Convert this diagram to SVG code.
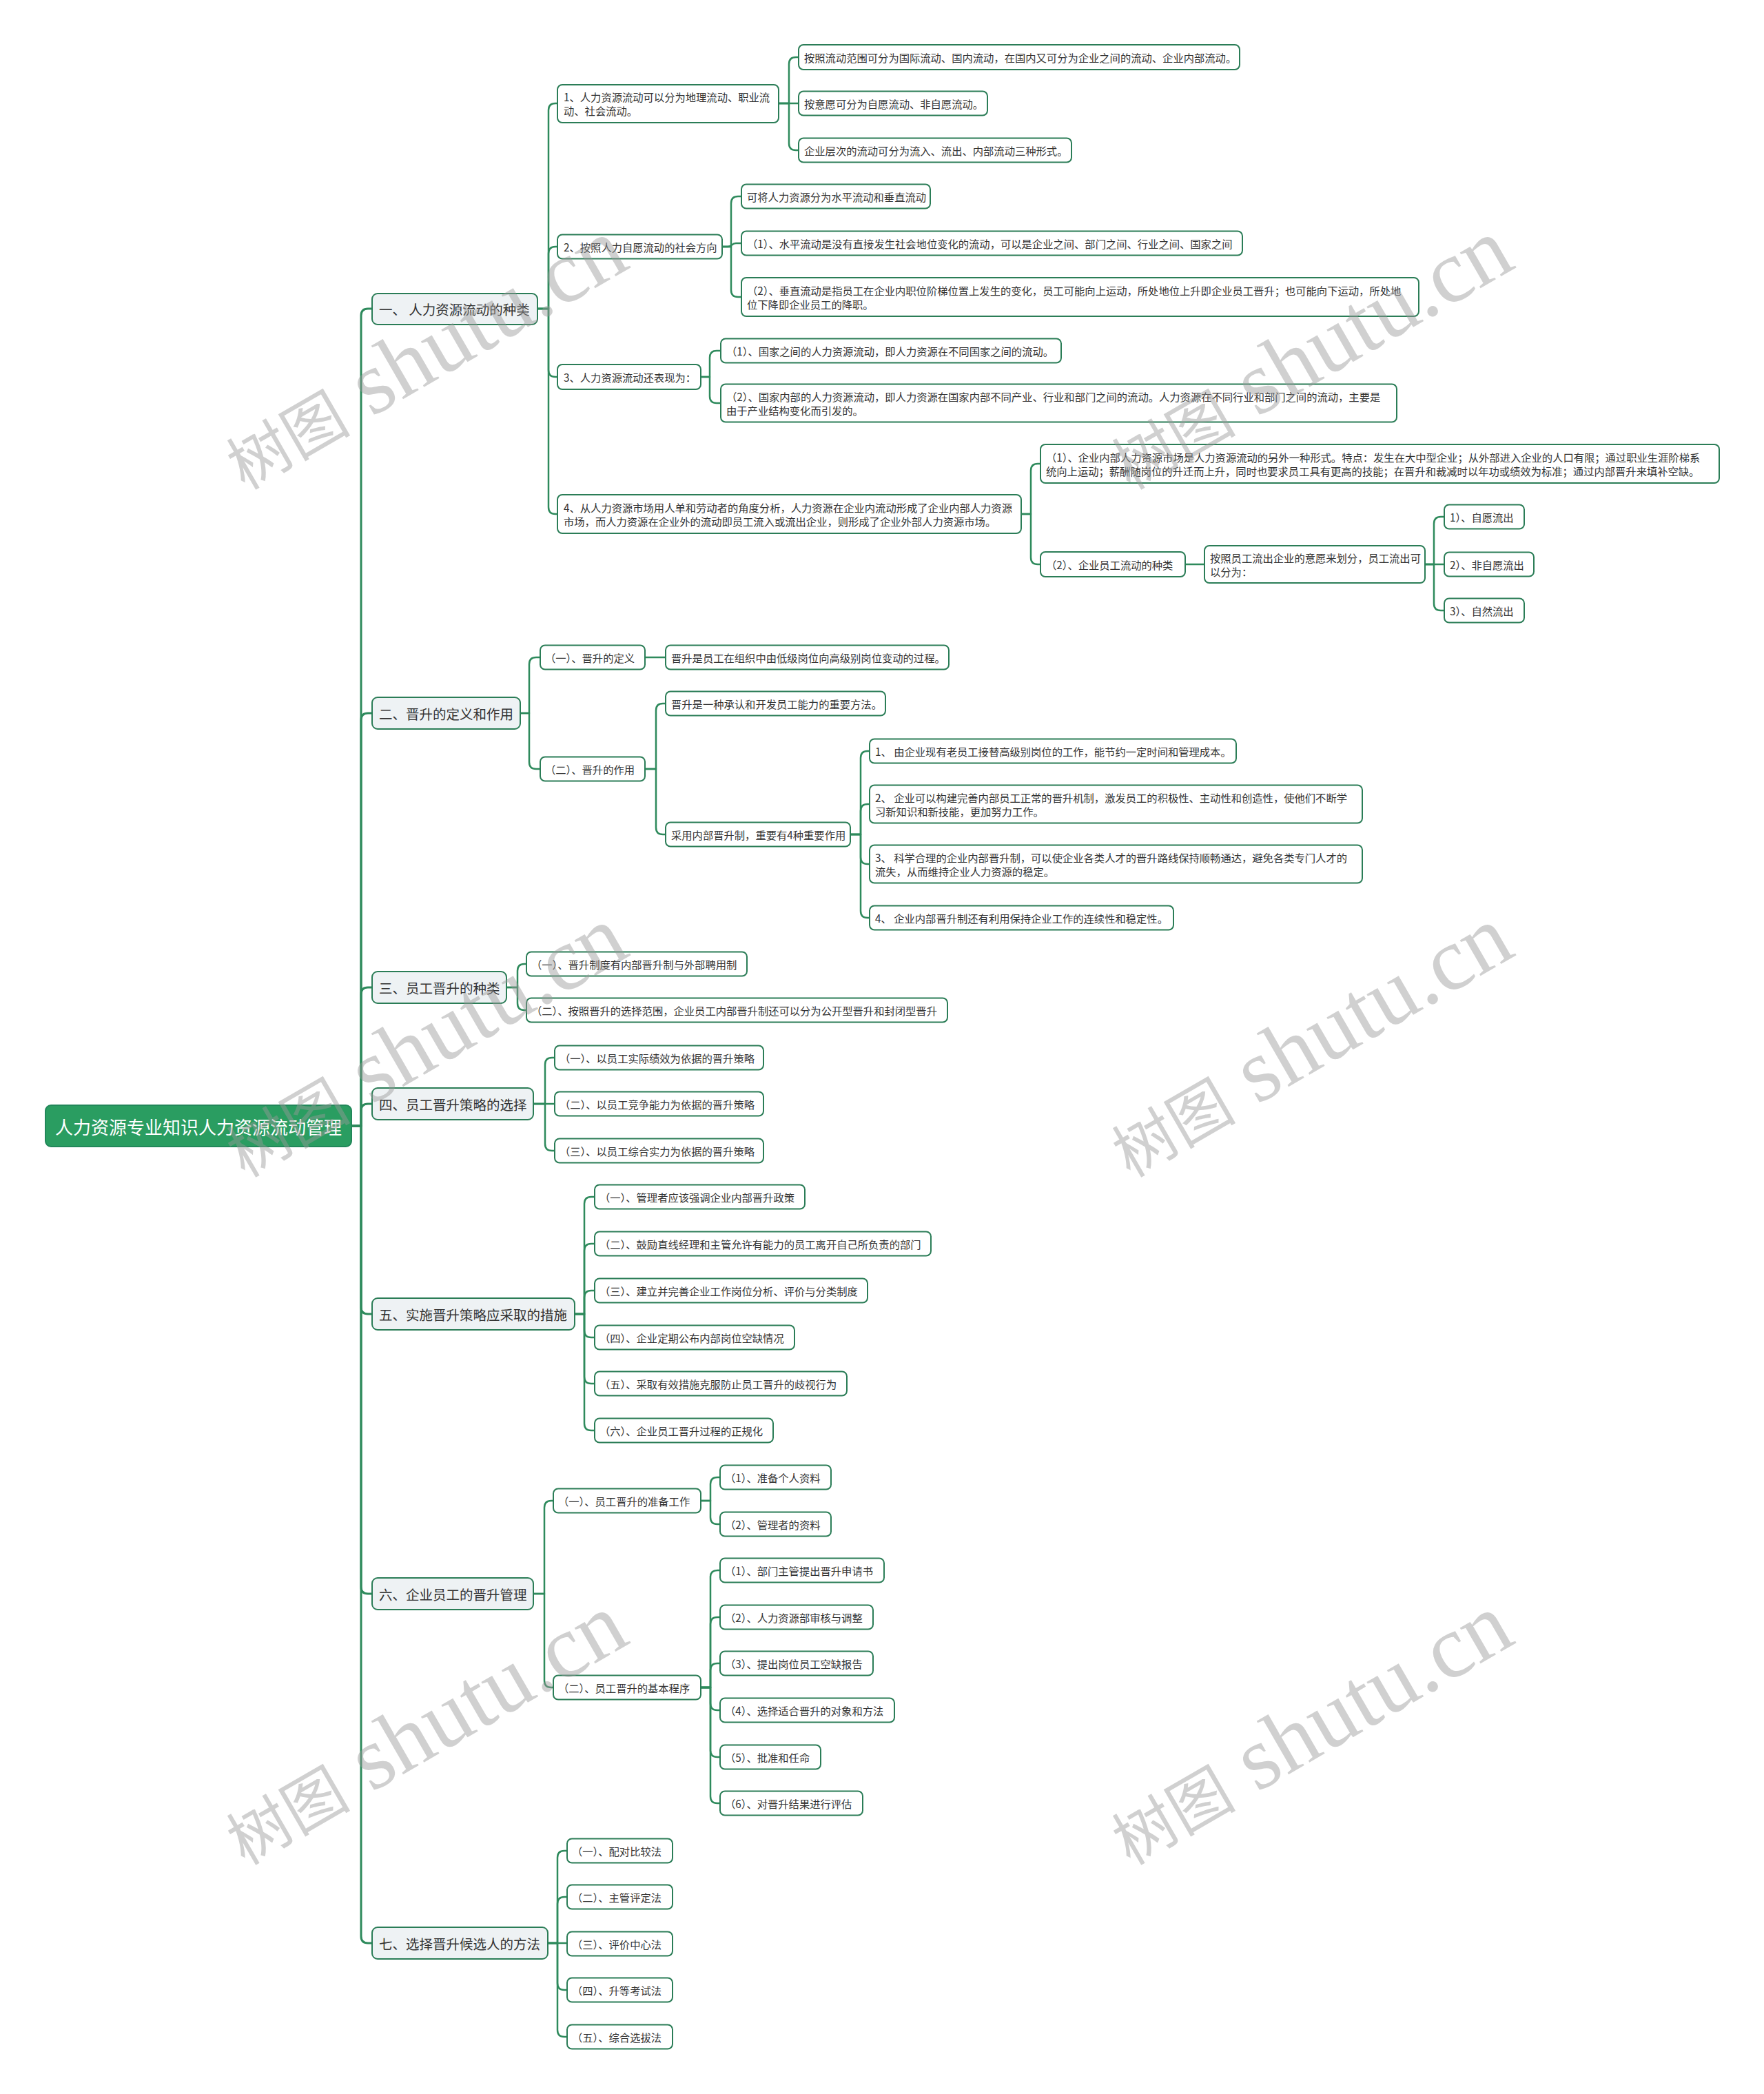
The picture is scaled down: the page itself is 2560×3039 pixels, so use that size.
<svg xmlns="http://www.w3.org/2000/svg" width="2560" height="3039" viewBox="0 0 2560 3039">
<style>
.n{fill:#ffffff;stroke:#2b7d57;stroke-width:2}
.l1{fill:#eef2f4;stroke:#2b7d57;stroke-width:2}
.root{fill:#2a9d61;stroke:#22875a;stroke-width:2}
text{font-family:'Noto Sans CJK SC','Noto Sans',sans-serif;fill:#333333;dominant-baseline:central}
.t{font-size:15.3px}
.t1{font-size:19.5px}
.tr{font-size:26px;fill:#ffffff;text-anchor:middle}
.c{fill:none;stroke:#2e8a5c;stroke-width:2.5;stroke-linecap:round;stroke-linejoin:round}
.trunk{stroke-width:3}
.wm{fill:#999999;opacity:0.45;dominant-baseline:alphabetic}
.wmc{font-family:'Noto Sans CJK SC',sans-serif;font-size:90px}
.wml{font-family:'Liberation Serif',serif;font-size:130px}
</style>
<rect x="0" y="0" width="2560" height="3039" fill="#ffffff"/>

<g id="connectors">
<path class="c trunk" d="M510 1634 H524 V458 Q524 448 534 448 H539"/>
<path class="c trunk" d="M510 1634 H524 V1045 Q524 1035 534 1035 H539"/>
<path class="c trunk" d="M510 1634 H524 V1443 Q524 1433 534 1433 H539"/>
<path class="c trunk" d="M510 1634 H524 V1612 Q524 1602 534 1602 H539"/>
<path class="c trunk" d="M510 1634 H524 V1897 Q524 1907 534 1907 H539"/>
<path class="c trunk" d="M510 1634 H524 V2303 Q524 2313 534 2313 H539"/>
<path class="c trunk" d="M510 1634 H524 V2810 Q524 2820 534 2820 H539"/>

<path class="c" d="M780 448 H796 V160 Q796 150 806 150 H809"/>
<path class="c" d="M780 448 H796 V368 Q796 358 806 358 H809"/>
<path class="c" d="M780 448 H796 V537 Q796 547 806 547 H809"/>
<path class="c" d="M780 448 H796 V736 Q796 746 806 746 H809"/>

<path class="c" d="M1130 150 H1145 V93 Q1145 83 1155 83 H1159"/>
<path class="c" d="M1130 150 H1159"/>
<path class="c" d="M1130 150 H1145 V208 Q1145 218 1155 218 H1159"/>

<path class="c" d="M1048 358 H1061 V295 Q1061 285 1071 285 H1076"/>
<path class="c" d="M1048 358 H1056 C1062 358 1062 353 1068 353 H1076"/>
<path class="c" d="M1048 358 H1061 V421 Q1061 431 1071 431 H1076"/>

<path class="c" d="M1017 547 H1030 V519 Q1030 509 1040 509 H1046"/>
<path class="c" d="M1017 547 H1030 V575 Q1030 585 1040 585 H1046"/>

<path class="c" d="M1482 746 H1496 V683 Q1496 673 1506 673 H1510"/>
<path class="c" d="M1482 746 H1496 V809 Q1496 819 1506 819 H1510"/>
<path class="c" d="M1720 819 H1748"/>
<path class="c" d="M2068 819 H2081 V760 Q2081 750 2091 750 H2096"/>
<path class="c" d="M2068 819 H2096"/>
<path class="c" d="M2068 819 H2081 V876 Q2081 886 2091 886 H2096"/>

<path class="c" d="M755 1035 H768 V964 Q768 954 778 954 H784"/>
<path class="c" d="M755 1035 H768 V1106 Q768 1116 778 1116 H784"/>
<path class="c" d="M936 954 H966"/>
<path class="c" d="M936 1116 H952 V1031 Q952 1021 962 1021 H966"/>
<path class="c" d="M936 1116 H952 V1201 Q952 1211 962 1211 H966"/>
<path class="c" d="M1234 1211 H1249 V1100 Q1249 1090 1259 1090 H1262"/>
<path class="c" d="M1234 1211 H1249 V1177 Q1249 1167 1259 1167 H1262"/>
<path class="c" d="M1234 1211 H1249 V1244 Q1249 1254 1259 1254 H1262"/>
<path class="c" d="M1234 1211 H1249 V1322 Q1249 1332 1259 1332 H1262"/>

<path class="c" d="M735 1433 H751 V1409 Q751 1399 761 1399 H764"/>
<path class="c" d="M735 1433 H751 V1456 Q751 1466 761 1466 H764"/>

<path class="c" d="M774 1602 H791 V1545 Q791 1535 801 1535 H805"/>
<path class="c" d="M774 1602 H805"/>
<path class="c" d="M774 1602 H791 V1660 Q791 1670 801 1670 H805"/>

<path class="c" d="M834 1907 H848 V1747 Q848 1737 858 1737 H863"/>
<path class="c" d="M834 1907 H848 V1815 Q848 1805 858 1805 H863"/>
<path class="c" d="M834 1907 H848 V1883 Q848 1873 858 1873 H863"/>
<path class="c" d="M834 1907 H848 V1931 Q848 1941 858 1941 H863"/>
<path class="c" d="M834 1907 H848 V1998 Q848 2008 858 2008 H863"/>
<path class="c" d="M834 1907 H848 V2066 Q848 2076 858 2076 H863"/>

<path class="c" d="M774 2313 H790 V2188 Q790 2178 800 2178 H803"/>
<path class="c" d="M774 2313 H790 V2439 Q790 2449 800 2449 H803"/>
<path class="c" d="M1017 2178 H1031 V2154 Q1031 2144 1041 2144 H1045"/>
<path class="c" d="M1017 2178 H1031 V2202 Q1031 2212 1041 2212 H1045"/>
<path class="c" d="M1017 2449 H1031 V2289 Q1031 2279 1041 2279 H1045"/>
<path class="c" d="M1017 2449 H1031 V2357 Q1031 2347 1041 2347 H1045"/>
<path class="c" d="M1017 2449 H1031 V2424 Q1031 2414 1041 2414 H1045"/>
<path class="c" d="M1017 2449 H1031 V2472 Q1031 2482 1041 2482 H1045"/>
<path class="c" d="M1017 2449 H1031 V2540 Q1031 2550 1041 2550 H1045"/>
<path class="c" d="M1017 2449 H1031 V2607 Q1031 2617 1041 2617 H1045"/>

<path class="c" d="M795 2820 H809 V2696 Q809 2686 819 2686 H823"/>
<path class="c" d="M795 2820 H809 V2763 Q809 2753 819 2753 H823"/>
<path class="c" d="M795 2820 H823"/>
<path class="c" d="M795 2820 H809 V2878 Q809 2888 819 2888 H823"/>
<path class="c" d="M795 2820 H809 V2946 Q809 2956 819 2956 H823"/>
</g>

<g id="n-root"><rect class="root" x="66" y="1604" width="444" height="60" rx="8"/><text class="tr" x="288" y="1634">人力资源专业知识人力资源流动管理</text></g>

<g id="n1"><rect class="l1" x="540" y="426" width="240" height="45" rx="8"/><text class="t1" x="550" y="448.5">一、 人力资源流动的种类</text></g>
<g id="n1-1"><rect class="n" x="809" y="123" width="321" height="55" rx="7"/><text class="t" x="818" y="140">1、人力资源流动可以分为地理流动、职业流</text><text class="t" x="818" y="160">动、社会流动。</text></g>
<g id="n1-1a"><rect class="n" x="1159" y="65" width="640" height="36" rx="7"/><text class="t" x="1167" y="83">按照流动范围可分为国际流动、国内流动，在国内又可分为企业之间的流动、企业内部流动。</text></g>
<g id="n1-1b"><rect class="n" x="1159" y="132.5" width="274" height="35" rx="7"/><text class="t" x="1167" y="150">按意愿可分为自愿流动、非自愿流动。</text></g>
<g id="n1-1c"><rect class="n" x="1159" y="200.5" width="396" height="35" rx="7"/><text class="t" x="1167" y="218">企业层次的流动可分为流入、流出、内部流动三种形式。</text></g>
<g id="n1-2"><rect class="n" x="809" y="340.5" width="239" height="35" rx="7"/><text class="t" x="818" y="358">2、按照人力自愿流动的社会方向</text></g>
<g id="n1-2a"><rect class="n" x="1076" y="267.5" width="274" height="35" rx="7"/><text class="t" x="1084" y="285">可将人力资源分为水平流动和垂直流动</text></g>
<g id="n1-2b"><rect class="n" x="1076" y="335.5" width="727" height="35" rx="7"/><text class="t" x="1084" y="353">（1）、水平流动是没有直接发生社会地位变化的流动，可以是企业之间、部门之间、行业之间、国家之间</text></g>
<g id="n1-2c"><rect class="n" x="1076" y="403" width="983" height="56" rx="7"/><text class="t" x="1084" y="421">（2）、垂直流动是指员工在企业内职位阶梯位置上发生的变化，员工可能向上运动，所处地位上升即企业员工晋升；也可能向下运动，所处地</text><text class="t" x="1084" y="441">位下降即企业员工的降职。</text></g>
<g id="n1-3"><rect class="n" x="809" y="529" width="208" height="36" rx="7"/><text class="t" x="818" y="547">3、人力资源流动还表现为：</text></g>
<g id="n1-3a"><rect class="n" x="1046" y="491.5" width="494" height="35" rx="7"/><text class="t" x="1054" y="509">（1）、国家之间的人力资源流动，即人力资源在不同国家之间的流动。</text></g>
<g id="n1-3b"><rect class="n" x="1046" y="557.5" width="981" height="55" rx="7"/><text class="t" x="1054" y="575">（2）、国家内部的人力资源流动，即人力资源在国家内部不同产业、行业和部门之间的流动。人力资源在不同行业和部门之间的流动，主要是</text><text class="t" x="1054" y="595">由于产业结构变化而引发的。</text></g>
<g id="n1-4"><rect class="n" x="809" y="718" width="673" height="56" rx="7"/><text class="t" x="818" y="736">4、从人力资源市场用人单和劳动者的角度分析，人力资源在企业内流动形成了企业内部人力资源</text><text class="t" x="818" y="756">市场，而人力资源在企业外的流动即员工流入或流出企业，则形成了企业外部人力资源市场。</text></g>
<g id="n1-4a"><rect class="n" x="1510" y="645" width="985" height="56" rx="7"/><text class="t" x="1518" y="663">（1）、企业内部人力资源市场是人力资源流动的另外一种形式。特点：发生在大中型企业；从外部进入企业的人口有限；通过职业生涯阶梯系</text><text class="t" x="1518" y="683">统向上运动；薪酬随岗位的升迁而上升，同时也要求员工具有更高的技能；在晋升和裁减时以年功或绩效为标准；通过内部晋升来填补空缺。</text></g>
<g id="n1-4b"><rect class="n" x="1510" y="801" width="210" height="36" rx="7"/><text class="t" x="1518" y="819">（2）、企业员工流动的种类</text></g>
<g id="n1-4c"><rect class="n" x="1748" y="792" width="320" height="54" rx="7"/><text class="t" x="1756" y="809">按照员工流出企业的意愿来划分，员工流出可</text><text class="t" x="1756" y="829">以分为：</text></g>
<g id="n1-4c1"><rect class="n" x="2096" y="732.5" width="116" height="35" rx="7"/><text class="t" x="2104" y="750">1）、自愿流出</text></g>
<g id="n1-4c2"><rect class="n" x="2096" y="801.5" width="130" height="35" rx="7"/><text class="t" x="2104" y="819">2）、非自愿流出</text></g>
<g id="n1-4c3"><rect class="n" x="2096" y="868.5" width="116" height="35" rx="7"/><text class="t" x="2104" y="886">3）、自然流出</text></g>

<g id="n2"><rect class="l1" x="540" y="1012" width="215" height="46" rx="8"/><text class="t1" x="550" y="1035">二、晋升的定义和作用</text></g>
<g id="n2-1"><rect class="n" x="784" y="936.5" width="152" height="35" rx="7"/><text class="t" x="791" y="954">（一）、晋升的定义</text></g>
<g id="n2-1a"><rect class="n" x="966" y="936.5" width="411" height="35" rx="7"/><text class="t" x="974" y="954">晋升是员工在组织中由低级岗位向高级别岗位变动的过程。</text></g>
<g id="n2-2"><rect class="n" x="784" y="1098.5" width="152" height="35" rx="7"/><text class="t" x="791" y="1116">（二）、晋升的作用</text></g>
<g id="n2-2a"><rect class="n" x="966" y="1003.5" width="319" height="35" rx="7"/><text class="t" x="974" y="1021">晋升是一种承认和开发员工能力的重要方法。</text></g>
<g id="n2-2b"><rect class="n" x="966" y="1193.5" width="268" height="35" rx="7"/><text class="t" x="974" y="1211">采用内部晋升制，重要有4种重要作用</text></g>
<g id="n2-2b1"><rect class="n" x="1262" y="1072.5" width="532" height="35" rx="7"/><text class="t" x="1270" y="1090">1、 由企业现有老员工接替高级别岗位的工作，能节约一定时间和管理成本。</text></g>
<g id="n2-2b2"><rect class="n" x="1262" y="1139.5" width="715" height="55" rx="7"/><text class="t" x="1270" y="1157">2、 企业可以构建完善内部员工正常的晋升机制，激发员工的积极性、主动性和创造性，使他们不断学</text><text class="t" x="1270" y="1177">习新知识和新技能，更加努力工作。</text></g>
<g id="n2-2b3"><rect class="n" x="1262" y="1226.5" width="715" height="55" rx="7"/><text class="t" x="1270" y="1244">3、 科学合理的企业内部晋升制，可以使企业各类人才的晋升路线保持顺畅通达，避免各类专门人才的</text><text class="t" x="1270" y="1264">流失，从而维持企业人力资源的稳定。</text></g>
<g id="n2-2b4"><rect class="n" x="1262" y="1314.5" width="441" height="35" rx="7"/><text class="t" x="1270" y="1332">4、 企业内部晋升制还有利用保持企业工作的连续性和稳定性。</text></g>

<g id="n3"><rect class="l1" x="540" y="1410" width="195" height="46" rx="8"/><text class="t1" x="550" y="1433">三、员工晋升的种类</text></g>
<g id="n3-1"><rect class="n" x="764" y="1381.5" width="320" height="35" rx="7"/><text class="t" x="771" y="1399">（一）、晋升制度有内部晋升制与外部聘用制</text></g>
<g id="n3-2"><rect class="n" x="764" y="1448.5" width="611" height="35" rx="7"/><text class="t" x="771" y="1466">（二）、按照晋升的选择范围，企业员工内部晋升制还可以分为公开型晋升和封闭型晋升</text></g>

<g id="n4"><rect class="l1" x="540" y="1579" width="234" height="46" rx="8"/><text class="t1" x="550" y="1602">四、员工晋升策略的选择</text></g>
<g id="n4-1"><rect class="n" x="805" y="1517.5" width="303" height="35" rx="7"/><text class="t" x="812" y="1535">（一）、以员工实际绩效为依据的晋升策略</text></g>
<g id="n4-2"><rect class="n" x="805" y="1584.5" width="303" height="35" rx="7"/><text class="t" x="812" y="1602">（二）、以员工竞争能力为依据的晋升策略</text></g>
<g id="n4-3"><rect class="n" x="805" y="1652.5" width="303" height="35" rx="7"/><text class="t" x="812" y="1670">（三）、以员工综合实力为依据的晋升策略</text></g>

<g id="n5"><rect class="l1" x="540" y="1884" width="294" height="46" rx="8"/><text class="t1" x="550" y="1907">五、实施晋升策略应采取的措施</text></g>
<g id="n5-1"><rect class="n" x="863" y="1719.5" width="305" height="35" rx="7"/><text class="t" x="870" y="1737">（一）、管理者应该强调企业内部晋升政策</text></g>
<g id="n5-2"><rect class="n" x="863" y="1787.5" width="488" height="35" rx="7"/><text class="t" x="870" y="1805">（二）、鼓励直线经理和主管允许有能力的员工离开自己所负责的部门</text></g>
<g id="n5-3"><rect class="n" x="863" y="1855.5" width="396" height="35" rx="7"/><text class="t" x="870" y="1873">（三）、建立并完善企业工作岗位分析、评价与分类制度</text></g>
<g id="n5-4"><rect class="n" x="863" y="1923.5" width="290" height="35" rx="7"/><text class="t" x="870" y="1941">（四）、企业定期公布内部岗位空缺情况</text></g>
<g id="n5-5"><rect class="n" x="863" y="1990.5" width="366" height="35" rx="7"/><text class="t" x="870" y="2008">（五）、采取有效措施克服防止员工晋升的歧视行为</text></g>
<g id="n5-6"><rect class="n" x="863" y="2058.5" width="259" height="35" rx="7"/><text class="t" x="870" y="2076">（六）、企业员工晋升过程的正规化</text></g>

<g id="n6"><rect class="l1" x="540" y="2290" width="234" height="46" rx="8"/><text class="t1" x="550" y="2313">六、企业员工的晋升管理</text></g>
<g id="n6-1"><rect class="n" x="803" y="2160.5" width="214" height="35" rx="7"/><text class="t" x="810" y="2178">（一）、员工晋升的准备工作</text></g>
<g id="n6-1a"><rect class="n" x="1045" y="2126.5" width="161" height="35" rx="7"/><text class="t" x="1052" y="2144">（1）、准备个人资料</text></g>
<g id="n6-1b"><rect class="n" x="1045" y="2194.5" width="161" height="35" rx="7"/><text class="t" x="1052" y="2212">（2）、管理者的资料</text></g>
<g id="n6-2"><rect class="n" x="803" y="2431.5" width="214" height="35" rx="7"/><text class="t" x="810" y="2449">（二）、员工晋升的基本程序</text></g>
<g id="n6-2a"><rect class="n" x="1045" y="2261.5" width="238" height="35" rx="7"/><text class="t" x="1052" y="2279">（1）、部门主管提出晋升申请书</text></g>
<g id="n6-2b"><rect class="n" x="1045" y="2329.5" width="222" height="35" rx="7"/><text class="t" x="1052" y="2347">（2）、人力资源部审核与调整</text></g>
<g id="n6-2c"><rect class="n" x="1045" y="2396.5" width="222" height="35" rx="7"/><text class="t" x="1052" y="2414">（3）、提出岗位员工空缺报告</text></g>
<g id="n6-2d"><rect class="n" x="1045" y="2464.5" width="253" height="35" rx="7"/><text class="t" x="1052" y="2482">（4）、选择适合晋升的对象和方法</text></g>
<g id="n6-2e"><rect class="n" x="1045" y="2532.5" width="146" height="35" rx="7"/><text class="t" x="1052" y="2550">（5）、批准和任命</text></g>
<g id="n6-2f"><rect class="n" x="1045" y="2599.5" width="207" height="35" rx="7"/><text class="t" x="1052" y="2617">（6）、对晋升结果进行评估</text></g>

<g id="n7"><rect class="l1" x="540" y="2797" width="255" height="46" rx="8"/><text class="t1" x="550" y="2820">七、选择晋升候选人的方法</text></g>
<g id="n7-1"><rect class="n" x="823" y="2668.5" width="153" height="35" rx="7"/><text class="t" x="830" y="2686">（一）、配对比较法</text></g>
<g id="n7-2"><rect class="n" x="823" y="2735.5" width="153" height="35" rx="7"/><text class="t" x="830" y="2753">（二）、主管评定法</text></g>
<g id="n7-3"><rect class="n" x="823" y="2803.5" width="153" height="35" rx="7"/><text class="t" x="830" y="2821">（三）、评价中心法</text></g>
<g id="n7-4"><rect class="n" x="823" y="2870.5" width="153" height="35" rx="7"/><text class="t" x="830" y="2888">（四）、升等考试法</text></g>
<g id="n7-5"><rect class="n" x="823" y="2938.5" width="153" height="35" rx="7"/><text class="t" x="830" y="2956">（五）、综合选拔法</text></g>

<g id="watermarks">
<text class="wm" transform="translate(355 712) rotate(-30)"><tspan class="wmc">树图</tspan><tspan class="wml"> shutu.cn</tspan></text>
<text class="wm" transform="translate(1640 712) rotate(-30)"><tspan class="wmc">树图</tspan><tspan class="wml"> shutu.cn</tspan></text>
<text class="wm" transform="translate(355 1710) rotate(-30)"><tspan class="wmc">树图</tspan><tspan class="wml"> shutu.cn</tspan></text>
<text class="wm" transform="translate(1640 1710) rotate(-30)"><tspan class="wmc">树图</tspan><tspan class="wml"> shutu.cn</tspan></text>
<text class="wm" transform="translate(355 2708) rotate(-30)"><tspan class="wmc">树图</tspan><tspan class="wml"> shutu.cn</tspan></text>
<text class="wm" transform="translate(1640 2708) rotate(-30)"><tspan class="wmc">树图</tspan><tspan class="wml"> shutu.cn</tspan></text>
</g>
</svg>
